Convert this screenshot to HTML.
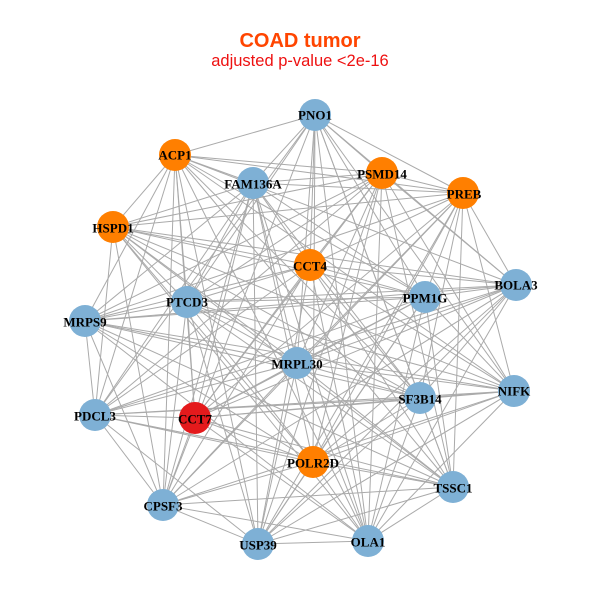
<!DOCTYPE html>
<html><head><meta charset="utf-8"><style>
html,body{margin:0;padding:0;background:#fff;width:600px;height:600px;overflow:hidden}
svg text{font-family:"Liberation Serif",serif;font-weight:bold;font-size:13px;text-anchor:middle;dominant-baseline:central;fill:#000}
</style></head><body>
<svg id="g" width="600" height="600" xmlns="http://www.w3.org/2000/svg">
<text x="300" y="41" style="font-family:'Liberation Sans',sans-serif;font-size:20px;fill:#ff4500">COAD tumor</text>
<text x="300" y="61" style="font-family:'Liberation Sans',sans-serif;font-weight:normal;font-size:16.5px;fill:#ee1111">adjusted p-value &lt;2e-16</text>
<g id="edges" stroke="#aaaaaa" stroke-width="1"></g>
<g id="nodes"></g>
<g>
<text x="315" y="115">PNO1</text>
<text x="175" y="155">ACP1</text>
<text x="253" y="184">FAM136A</text>
<text x="382" y="174">PSMD14</text>
<text x="464" y="194">PREB</text>
<text x="113" y="228">HSPD1</text>
<text x="310" y="266">CCT4</text>
<text x="516" y="285">BOLA3</text>
<text x="425" y="298">PPM1G</text>
<text x="187" y="302">PTCD3</text>
<text x="85" y="322">MRPS9</text>
<text x="297" y="364">MRPL30</text>
<text x="514" y="391">NIFK</text>
<text x="420" y="399">SF3B14</text>
<text x="95" y="416">PDCL3</text>
<text x="195" y="419">CCT7</text>
<text x="313" y="463">POLR2D</text>
<text x="453" y="488">TSSC1</text>
<text x="163" y="506">CPSF3</text>
<text x="368" y="542">OLA1</text>
<text x="258" y="545">USP39</text>
</g>
</svg>
<script>
var N=[[315,115,'b'],[175,155,'o'],[253,183,'b'],[382,173,'o'],[463,193,'o'],[113,227,'o'],[310,265,'o'],[516,285,'b'],[425,297,'b'],[187,302,'b'],[85,321,'b'],[297,363,'b'],[514,391,'b'],[420,398,'b'],[95,415,'b'],[195,418,'r'],[313,462,'o'],[453,487,'b'],[163,505,'b'],[368,541,'b'],[258,544,'b']];
var C={b:'#7eb0d5',o:'#ff7f00',r:'#e41a1c'};
var E=document.getElementById('edges'),Nd=document.getElementById('nodes'),ns='http://www.w3.org/2000/svg';
for(var i=0;i<N.length;i++)for(var j=i+1;j<N.length;j++){
 if((i*7+j*3)%5==0)continue;
 var l=document.createElementNS(ns,'line');
 l.setAttribute('x1',N[i][0]);l.setAttribute('y1',N[i][1]);l.setAttribute('x2',N[j][0]);l.setAttribute('y2',N[j][1]);E.appendChild(l);}
N.forEach(function(n){var c=document.createElementNS(ns,'circle');c.setAttribute('cx',n[0]);c.setAttribute('cy',n[1]);c.setAttribute('r',16);c.setAttribute('fill',C[n[2]]);Nd.appendChild(c);});
</script>
</body></html>
